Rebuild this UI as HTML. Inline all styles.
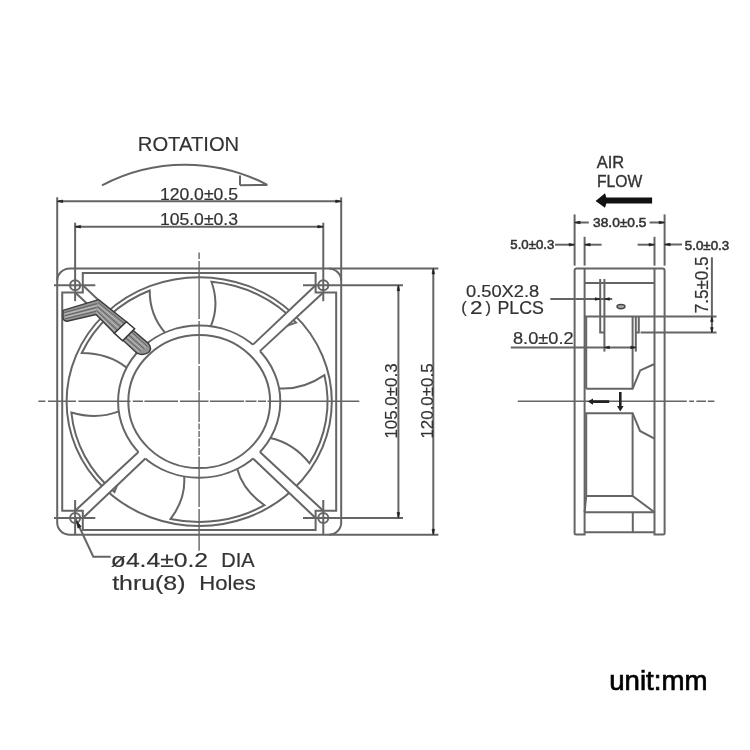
<!DOCTYPE html>
<html><head><meta charset="utf-8"><style>
html,body{margin:0;padding:0;background:#fff;position:relative;}
svg{display:block;filter:blur(0.65px);}
text{font-family:"Liberation Sans",sans-serif;fill:#333;stroke:#333;stroke-width:0.2px;}
</style></head><body>
<svg width="750" height="750" viewBox="0 0 750 750">
<rect width="750" height="750" fill="#fff"/>
<g id="front" fill="none" stroke="#656565" stroke-width="2.0">
<rect x="57.21" y="268.40" width="283.98" height="266.40" rx="12.79" ry="12"/>
<ellipse cx="199.20" cy="401.60" rx="132.61" ry="124.40"/>
<ellipse cx="199.20" cy="401.60" rx="81.12" ry="76.10"/>
<ellipse cx="199.20" cy="401.60" rx="70.89" ry="66.50"/>
<path d="M279.09,388.39 Q302.92,389.91 324.41,375.13 A128.35,120.40 0 0 1 309.44,463.25 Q293.73,443.33 270.42,438.03"/>
<path d="M237.16,468.85 Q242.94,490.60 264.53,505.23 A128.35,120.40 0 0 1 170.55,518.96 Q185.93,498.81 184.14,476.38"/>
<path d="M142.85,456.34 Q122.61,468.25 114.49,492.05 A128.35,120.40 0 0 1 71.38,412.51 Q96.58,419.96 118.75,411.40"/>
<path d="M126.60,367.64 Q108.41,353.12 81.77,353.01 A128.35,120.40 0 0 1 149.67,290.53 Q149.67,315.31 165.04,332.57"/>
<path d="M210.77,326.28 Q219.76,305.52 211.50,281.75 A128.35,120.40 0 0 1 296.06,322.61 Q270.98,330.40 258.34,349.51"/>
<polygon fill="#fff" stroke="none" points="249.25,455.06 315.61,518.00 315.61,510.80 323.28,510.80 256.19,448.55"/>
<polygon fill="#fff" stroke="none" points="142.21,448.55 75.12,510.80 82.79,510.80 82.79,518.00 149.15,455.06"/>
<polygon fill="#fff" stroke="none" points="149.15,348.14 82.79,285.20 82.79,292.40 75.12,292.40 142.21,354.65"/>
<polygon fill="#fff" stroke="none" points="256.19,354.65 323.28,292.40 315.61,292.40 315.61,285.20 249.25,348.14"/>
<polygon points="82.79,273.10 315.61,273.10 315.61,292.40 336.18,292.40 336.18,510.80 315.61,510.80 315.61,530.10 82.79,530.10 82.79,510.80 62.22,510.80 62.22,292.40 82.79,292.40"/>
<line x1="252.99" y1="458.57" x2="315.61" y2="518.00"/>
<line x1="259.92" y1="452.06" x2="323.28" y2="510.80"/>
<line x1="138.48" y1="452.06" x2="75.12" y2="510.80"/>
<line x1="145.41" y1="458.57" x2="82.79" y2="518.00"/>
<line x1="145.41" y1="344.63" x2="82.79" y2="285.20"/>
<line x1="138.48" y1="351.14" x2="75.12" y2="292.40"/>
<line x1="259.92" y1="351.14" x2="323.28" y2="292.40"/>
<line x1="252.99" y1="344.63" x2="315.61" y2="285.20"/>
<ellipse cx="75.12" cy="285.20" rx="5.05" ry="4.90" fill="#fff"/>
<ellipse cx="75.12" cy="518.00" rx="5.05" ry="4.90" fill="#fff"/>
<ellipse cx="323.28" cy="285.20" rx="5.05" ry="4.90" fill="#fff"/>
<ellipse cx="323.28" cy="518.00" rx="5.05" ry="4.90" fill="#fff"/>
</g>
<g id="wire">
<path d="M63,310.4 L98.5,299.6 L127,322.3 L133,330.3 L148.6,343.6 Q152.5,349 148.5,352.5 Q143,356 137,353.2 L122.2,339.6 L114.4,333.2 L96,314.5 L67,321.2 Q62.5,320.8 63,316 Z" fill="#949494" stroke="#3d3d3d" stroke-width="1.4" stroke-linejoin="round"/>
<line x1="64.32" y1="312.64" x2="97.10" y2="303.60" stroke="#5a5a5a" stroke-width="0.9"/><line x1="64.56" y1="314.17" x2="96.80" y2="305.55" stroke="#c4c4c4" stroke-width="0.9"/><line x1="64.80" y1="315.70" x2="96.50" y2="307.50" stroke="#5a5a5a" stroke-width="0.9"/><line x1="65.04" y1="317.23" x2="96.20" y2="309.45" stroke="#c4c4c4" stroke-width="0.9"/><line x1="65.28" y1="318.76" x2="95.90" y2="311.40" stroke="#5a5a5a" stroke-width="0.9"/><line x1="98.12" y1="302.52" x2="124.60" y2="323.51" stroke="#5a5a5a" stroke-width="0.9"/><line x1="97.75" y1="304.55" x2="122.80" y2="325.22" stroke="#c4c4c4" stroke-width="0.9"/><line x1="97.38" y1="306.57" x2="121.00" y2="326.93" stroke="#5a5a5a" stroke-width="0.9"/><line x1="97.00" y1="308.60" x2="119.20" y2="328.64" stroke="#c4c4c4" stroke-width="0.9"/><line x1="96.62" y1="310.62" x2="117.40" y2="330.35" stroke="#5a5a5a" stroke-width="0.9"/><line x1="96.30" y1="312.38" x2="115.84" y2="331.83" stroke="#c4c4c4" stroke-width="0.9"/><line x1="131.38" y1="331.69" x2="147.78" y2="346.62" stroke="#5a5a5a" stroke-width="0.9"/><line x1="129.76" y1="333.09" x2="146.05" y2="347.75" stroke="#c4c4c4" stroke-width="0.9"/><line x1="128.14" y1="334.49" x2="144.32" y2="348.88" stroke="#5a5a5a" stroke-width="0.9"/><line x1="126.52" y1="335.88" x2="142.60" y2="350.00" stroke="#c4c4c4" stroke-width="0.9"/><line x1="124.90" y1="337.28" x2="140.88" y2="351.12" stroke="#5a5a5a" stroke-width="0.9"/><line x1="123.50" y1="338.48" x2="139.38" y2="352.10" stroke="#c4c4c4" stroke-width="0.9"/>
<polygon points="114.4,333.2 126.4,321.8 134.6,328.7 122.6,340.8" fill="#fff" stroke="#333" stroke-width="1.5"/>
</g>
<g id="dims" fill="none" stroke="#656565" stroke-width="2.0">
<line x1="57.21" y1="197.30" x2="57.21" y2="280.40"/>
<line x1="341.19" y1="197.30" x2="341.19" y2="280.40"/>
<line x1="57.21" y1="201.30" x2="341.19" y2="201.30"/>
<polygon points="57.21,201.30 62.71,200.05 62.71,202.55" fill="#222" stroke="#222" stroke-width="0.7" stroke-linejoin="miter"/>
<polygon points="341.19,201.30 335.69,202.55 335.69,200.05" fill="#222" stroke="#222" stroke-width="0.7" stroke-linejoin="miter"/>
<line x1="75.12" y1="222.70" x2="75.12" y2="301.20"/>
<line x1="323.28" y1="222.70" x2="323.28" y2="301.20"/>
<line x1="75.12" y1="226.70" x2="323.28" y2="226.70"/>
<polygon points="75.12,226.70 80.62,225.45 80.62,227.95" fill="#222" stroke="#222" stroke-width="0.7" stroke-linejoin="miter"/>
<polygon points="323.28,226.70 317.78,227.95 317.78,225.45" fill="#222" stroke="#222" stroke-width="0.7" stroke-linejoin="miter"/>
<line x1="75.12" y1="500.00" x2="75.12" y2="534.80"/>
<line x1="323.28" y1="500.00" x2="323.28" y2="534.80"/>
<line x1="54.00" y1="285.20" x2="95.30" y2="285.20"/>
<line x1="54.00" y1="518.00" x2="95.30" y2="518.00"/>
<line x1="303.00" y1="285.20" x2="403.00" y2="285.20"/>
<line x1="303.00" y1="518.00" x2="403.00" y2="518.00"/>
<line x1="329.19" y1="268.40" x2="438.40" y2="268.40"/>
<line x1="329.19" y1="534.80" x2="438.40" y2="534.80"/>
<line x1="433.30" y1="268.40" x2="433.30" y2="534.80"/>
<polygon points="433.30,268.40 434.55,273.90 432.05,273.90" fill="#222" stroke="#222" stroke-width="0.7" stroke-linejoin="miter"/>
<polygon points="433.30,534.80 432.05,529.30 434.55,529.30" fill="#222" stroke="#222" stroke-width="0.7" stroke-linejoin="miter"/>
<line x1="398.40" y1="285.20" x2="398.40" y2="518.00"/>
<polygon points="398.40,285.20 399.65,290.70 397.15,290.70" fill="#222" stroke="#222" stroke-width="0.7" stroke-linejoin="miter"/>
<polygon points="398.40,518.00 397.15,512.50 399.65,512.50" fill="#222" stroke="#222" stroke-width="0.7" stroke-linejoin="miter"/>
<path d="M102,185.3 A178,178 0 0 1 267.3,184.8"/>
<line x1="240.00" y1="175.60" x2="240.00" y2="185.20"/>
<line x1="240.00" y1="185.20" x2="267.30" y2="184.90"/>
<polyline points="75.62,519.00 93.30,556.70 110.70,556.70"/>
<polygon points="76.52,521.00 81.15,526.53 77.91,528.07" fill="#222" stroke="#222" stroke-width="0.7" stroke-linejoin="miter"/>
</g>
<path id="center" d="M38.4,401.3 H45.3 M48,401.3 H76 M78.4,401.3 H130.5 M132.8,401.3 H143 M144.5,401.3 H178 M180,401.3 H208.5 M210,401.3 H244 M245.5,401.3 H256.5 M258,401.3 H266 M267.5,401.3 H359.3 M199.1,252.4 V259 M199.1,261 V319 M199.1,321 V364 M199.1,366 V390.5 M199.1,392 V422 M199.1,423.5 V429.5 M199.1,431 V437 M199.1,438.5 V446.5 M199.1,448 V455 M199.1,456.5 V507 M199.1,509 V550.8 M517.8,401.3 H686.8 M689.2,401.3 H694 M696.4,401.3 H706 M707.8,401.3 H714.4" fill="none" stroke="#656565" stroke-width="1.4"/>
<g id="side" fill="none" stroke="#656565" stroke-width="2.0">
<path d="M584.6,532.2 L584.6,534.6 L576.1,534.6 Q574.6,534.6 574.6,533.1 L574.6,270.4 Q574.6,268.4 576.6,268.4 L662.6,268.4 Q664.6,268.4 664.6,270.4 L664.6,533.1 Q664.6,534.6 663.1,534.6 L654.5,534.6 L654.5,532.2"/>
<line x1="584.60" y1="268.40" x2="584.60" y2="532.20"/>
<line x1="654.50" y1="268.40" x2="654.50" y2="532.20"/>
<line x1="584.60" y1="532.20" x2="654.50" y2="532.20"/>
<line x1="584.60" y1="283.00" x2="654.50" y2="283.00"/>
<line x1="584.60" y1="316.60" x2="716.50" y2="316.60"/>
<line x1="640.60" y1="332.60" x2="716.50" y2="332.60"/>
<polyline points="600.20,279.00 600.20,332.40 604.40,332.40"/>
<line x1="604.40" y1="279.00" x2="604.40" y2="351.60"/>
<polyline points="635.80,351.60 635.80,316.60"/>
<polyline points="638.80,316.60 638.80,332.40 635.80,332.40"/>
<ellipse cx="621" cy="306.6" rx="4" ry="2.1" fill="#aaa" stroke="#444" stroke-width="1.4"/>
<line x1="586.20" y1="316.60" x2="586.20" y2="388.80"/>
<polyline points="586.20,388.80 632.60,388.80 640.20,370.40 654.50,364.00"/>
<line x1="632.60" y1="316.60" x2="632.60" y2="388.80"/>
<polyline points="654.50,438.70 640.00,431.00 632.60,413.20 586.20,413.20 586.20,496.00 584.60,512.30"/>
<line x1="632.60" y1="413.20" x2="632.60" y2="496.00"/>
<polyline points="586.20,496.00 632.60,496.00 654.50,512.30"/>
<line x1="584.60" y1="512.30" x2="654.50" y2="512.30"/>
<line x1="632.80" y1="512.30" x2="632.80" y2="532.20"/>
<polygon points="587.70,401.60 593.00,398.40 593.00,400.30 609.20,400.30 609.20,402.90 593.00,402.90 593.00,404.80" fill="#222" stroke="none"/>
<polygon points="620.30,411.60 617.00,406.00 619.00,406.00 619.00,392.00 621.60,392.00 621.60,406.00 623.60,406.00" fill="#222" stroke="none"/>
<polygon points="595.60,200.90 605.00,193.20 606.30,197.60 652.10,197.60 652.10,203.40 606.30,203.40 605.00,207.80" fill="#111" stroke="none"/>
<line x1="574.60" y1="214.40" x2="574.60" y2="265.60"/>
<line x1="664.60" y1="214.40" x2="664.60" y2="265.60"/>
<line x1="584.60" y1="236.80" x2="584.60" y2="265.60"/>
<line x1="654.50" y1="236.80" x2="654.50" y2="265.60"/>
<line x1="574.60" y1="222.50" x2="588.80" y2="222.50"/>
<polygon points="574.60,222.50 580.10,221.25 580.10,223.75" fill="#222" stroke="#222" stroke-width="0.7" stroke-linejoin="miter"/>
<line x1="649.60" y1="222.50" x2="664.60" y2="222.50"/>
<polygon points="664.60,222.50 659.10,223.75 659.10,221.25" fill="#222" stroke="#222" stroke-width="0.7" stroke-linejoin="miter"/>
<line x1="555.00" y1="244.70" x2="574.60" y2="244.70"/>
<polygon points="574.60,244.70 569.10,245.95 569.10,243.45" fill="#222" stroke="#222" stroke-width="0.7" stroke-linejoin="miter"/>
<line x1="584.60" y1="244.70" x2="601.60" y2="244.70"/>
<polygon points="584.60,244.70 590.10,243.45 590.10,245.95" fill="#222" stroke="#222" stroke-width="0.7" stroke-linejoin="miter"/>
<line x1="637.60" y1="244.70" x2="654.50" y2="244.70"/>
<polygon points="654.50,244.70 649.00,245.95 649.00,243.45" fill="#222" stroke="#222" stroke-width="0.7" stroke-linejoin="miter"/>
<line x1="664.60" y1="244.50" x2="682.00" y2="244.50"/>
<polygon points="664.60,244.50 670.10,243.25 670.10,245.75" fill="#222" stroke="#222" stroke-width="0.7" stroke-linejoin="miter"/>
<line x1="711.90" y1="257.30" x2="711.90" y2="332.60"/>
<polygon points="711.90,316.60 713.15,321.60 710.65,321.60" fill="#222" stroke="#222" stroke-width="0.7" stroke-linejoin="miter"/>
<polygon points="711.90,332.60 710.65,327.60 713.15,327.60" fill="#222" stroke="#222" stroke-width="0.7" stroke-linejoin="miter"/>
<line x1="550.30" y1="299.00" x2="612.20" y2="299.00"/>
<polygon points="600.20,299.00 595.20,300.25 595.20,297.75" fill="#222" stroke="#222" stroke-width="0.7" stroke-linejoin="miter"/>
<polygon points="604.40,299.00 609.40,297.75 609.40,300.25" fill="#222" stroke="#222" stroke-width="0.7" stroke-linejoin="miter"/>
<line x1="510.80" y1="347.40" x2="636.40" y2="347.40"/>
<polygon points="604.40,347.40 609.40,346.15 609.40,348.65" fill="#222" stroke="#222" stroke-width="0.7" stroke-linejoin="miter"/>
<polygon points="635.80,347.40 630.80,348.65 630.80,346.15" fill="#222" stroke="#222" stroke-width="0.7" stroke-linejoin="miter"/>
</g>
<g id="texts">

<text x="137.8" y="150.5" font-size="20.6" textLength="101.4" lengthAdjust="spacingAndGlyphs" style="stroke-width:0.15px">ROTATION</text>
<text x="159.9" y="200" font-size="15.6" textLength="78.1" lengthAdjust="spacingAndGlyphs">120.0±0.5</text>
<text x="159.9" y="224.8" font-size="15.6" textLength="78.1" lengthAdjust="spacingAndGlyphs">105.0±0.3</text>
<text transform="translate(396.8,438.6) rotate(-90)" font-size="16.8" textLength="75.2" lengthAdjust="spacingAndGlyphs">105.0±0.3</text>
<text transform="translate(432.6,438.6) rotate(-90)" font-size="16.8" textLength="75.2" lengthAdjust="spacingAndGlyphs">120.0±0.5</text>
<text x="110.8" y="567.2" font-size="20.3" textLength="97.3" lengthAdjust="spacingAndGlyphs">ø4.4±0.2</text><text x="221.3" y="567.2" font-size="20.3" textLength="33.4" lengthAdjust="spacingAndGlyphs">DIA</text>
<text x="112.2" y="590.4" font-size="21" textLength="73.3" lengthAdjust="spacingAndGlyphs">thru(8)</text><text x="199.3" y="590.4" font-size="21" textLength="56.6" lengthAdjust="spacingAndGlyphs">Holes</text>
<text x="596.8" y="167.6" font-size="16.5" textLength="27.4" lengthAdjust="spacingAndGlyphs" style="stroke-width:0.35px">AIR</text>
<text x="597" y="186.5" font-size="17.1" textLength="45.3" lengthAdjust="spacingAndGlyphs" style="stroke-width:0.35px">FLOW</text>
<text x="593.1" y="227.2" font-size="13" textLength="53.3" lengthAdjust="spacingAndGlyphs" style="stroke-width:0.55px">38.0±0.5</text>
<text x="510.3" y="249" font-size="13" textLength="44" lengthAdjust="spacingAndGlyphs" style="stroke-width:0.55px">5.0±0.3</text>
<text x="684.8" y="249.9" font-size="13" textLength="44.4" lengthAdjust="spacingAndGlyphs" style="stroke-width:0.55px">5.0±0.3</text>
<text transform="translate(708,313.3) rotate(-90)" font-size="17.5" textLength="56.9" lengthAdjust="spacingAndGlyphs">7.5±0.5</text>
<text x="466" y="296.5" font-size="17.3" textLength="73.2" lengthAdjust="spacingAndGlyphs">0.50X2.8</text>
<text x="461.2" y="313.2" font-size="16.5">(</text><text x="470" y="313.7" font-size="17.5" textLength="12.5" lengthAdjust="spacingAndGlyphs">2</text><text x="485.5" y="313.2" font-size="16.5">)</text><text x="497.5" y="313.7" font-size="17.5" textLength="46.4" lengthAdjust="spacingAndGlyphs">PLCS</text>
<text x="513" y="343.6" font-size="16.8" textLength="60.6" lengthAdjust="spacingAndGlyphs">8.0±0.2</text>

</g>
</svg>
<svg id="unit" width="750" height="750" viewBox="0 0 750 750" style="position:absolute;left:0;top:0;filter:blur(0.25px);">
<text x="609.2" y="689.5" font-size="27.5" textLength="98.2" lengthAdjust="spacingAndGlyphs" style="fill:#000;stroke:#000;stroke-width:0.7px">unit:mm</text>
</svg>
</body></html>
